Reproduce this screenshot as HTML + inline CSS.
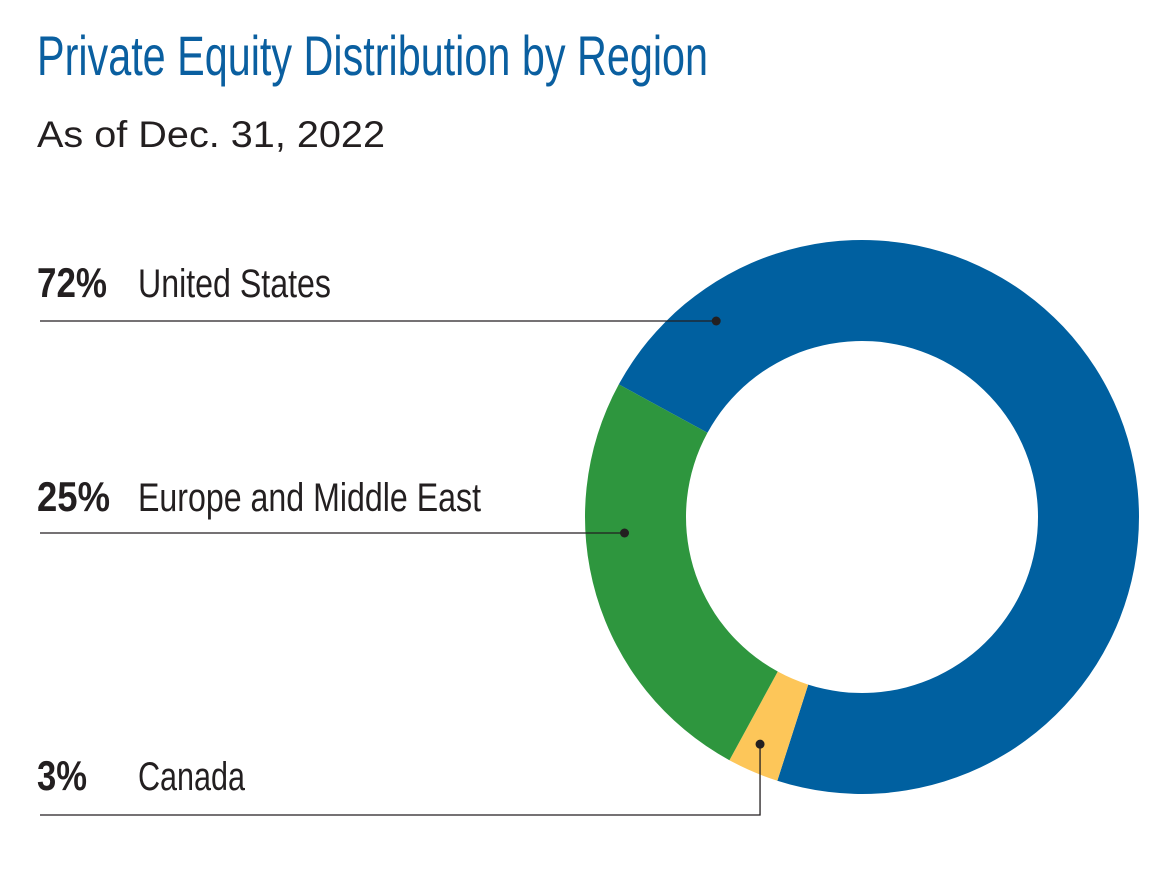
<!DOCTYPE html>
<html><head><meta charset="utf-8"><style>
html,body{margin:0;padding:0;background:#fff;}
svg{display:block;}
text{font-family:"Liberation Sans",sans-serif;}
</style></head><body>
<svg id="chart" width="1161" height="878" viewBox="0 0 1161 878" xmlns="http://www.w3.org/2000/svg">
<text x="37" y="75" font-size="56" fill="#0a5fa0" textLength="671" lengthAdjust="spacingAndGlyphs">Private Equity Distribution by Region</text>
<text x="37" y="147" font-size="37" fill="#231f20" textLength="348" lengthAdjust="spacingAndGlyphs">As of Dec. 31, 2022</text>
<g id="slices"></g>
<g id="labels"></g>
</svg>
<script>
const categories = ["United States", "Europe and Middle East", "Canada"];
const values = [72, 25, 3];
const order = ["United States", "Canada", "Europe and Middle East"];
const labelCategories = ["United States", "Europe and Middle East", "Canada"];

const NS = "http://www.w3.org/2000/svg";
const cx = 862, cy = 517, R = 277, r = 176, startDeg = 298.6;
const colors = {"United States":"#0060a0","Europe and Middle East":"#2e963e","Canada":"#fdc659"};
const total = values.reduce((a,b)=>a+b,0);
function pt(deg, rad){const a=deg*Math.PI/180;return [cx+rad*Math.sin(a), cy-rad*Math.cos(a)];}
const slicesG = document.getElementById('slices');
const mids = {};
let cur = startDeg;
order.forEach((name)=>{
  const v = values[categories.indexOf(name)];
  const span = v/total*360;
  const a0=cur, a1=cur+span;
  const large = span>180?1:0;
  const p0=pt(a0,R), p1=pt(a1,R), q1=pt(a1,r), q0=pt(a0,r);
  const d=`M${p0[0]},${p0[1]} A${R},${R} 0 ${large} 1 ${p1[0]},${p1[1]} L${q1[0]},${q1[1]} A${r},${r} 0 ${large} 0 ${q0[0]},${q0[1]} Z`;
  const path=document.createElementNS(NS,'path');
  path.setAttribute('d',d);
  path.setAttribute('fill',colors[name]);
  
  
  slicesG.appendChild(path);
  mids[name]=[a0,a1];
  cur=a1;
});
const labelsG=document.getElementById('labels');
const rows=[{y:297,line:321},{y:511,line:533},{y:790,line:815}];
const pctW=[70,73,50];
const nameW=[193,343,107];
const dotFrac={"United States":0.096,"Europe and Middle East":0.64,"Canada":0.59};
const dotRad={"United States":245,"Europe and Middle East":238,"Canada":249};
labelCategories.forEach((name,i)=>{
  const [a0,a1]=mids[name];
  const ang=a0+(a1-a0)*dotFrac[name];
  const dot=pt(ang,dotRad[name]);
  const row=rows[i];
  const val=values[categories.indexOf(name)];
  const pct=document.createElementNS(NS,'text');
  pct.setAttribute('x',37);pct.setAttribute('y',row.y);
  pct.setAttribute('font-size','42');pct.setAttribute('font-weight','bold');pct.setAttribute('fill','#231f20');
  pct.setAttribute('textLength', pctW[i]);
  pct.setAttribute('lengthAdjust','spacingAndGlyphs');
  pct.textContent=val+'%';
  
  
  labelsG.appendChild(pct);
  const nm=document.createElementNS(NS,'text');
  nm.setAttribute('x',138);nm.setAttribute('y',row.y);
  nm.setAttribute('font-size','40');nm.setAttribute('fill','#231f20');
  nm.setAttribute('textLength', nameW[i]);
  nm.setAttribute('lengthAdjust','spacingAndGlyphs');
  nm.textContent=name;
  
  
  labelsG.appendChild(nm);
  const pl=document.createElementNS(NS,'polyline');
  let pts;
  if(Math.abs(dot[1]-row.line)<15){dot[1]=row.line;pts=`40,${row.line} ${dot[0]},${row.line}`;}
  else pts=`40,${row.line} ${dot[0]},${row.line} ${dot[0]},${dot[1]}`;
  pl.setAttribute('points',pts);
  pl.setAttribute('fill','none');pl.setAttribute('stroke','#231f20');pl.setAttribute('stroke-width','1.3');
  
  
  labelsG.appendChild(pl);
  const c=document.createElementNS(NS,'circle');
  c.setAttribute('cx',dot[0]);c.setAttribute('cy',dot[1]);c.setAttribute('r',4.5);c.setAttribute('fill','#231f20');
  
  
  labelsG.appendChild(c);
});
</script>
</body></html>
